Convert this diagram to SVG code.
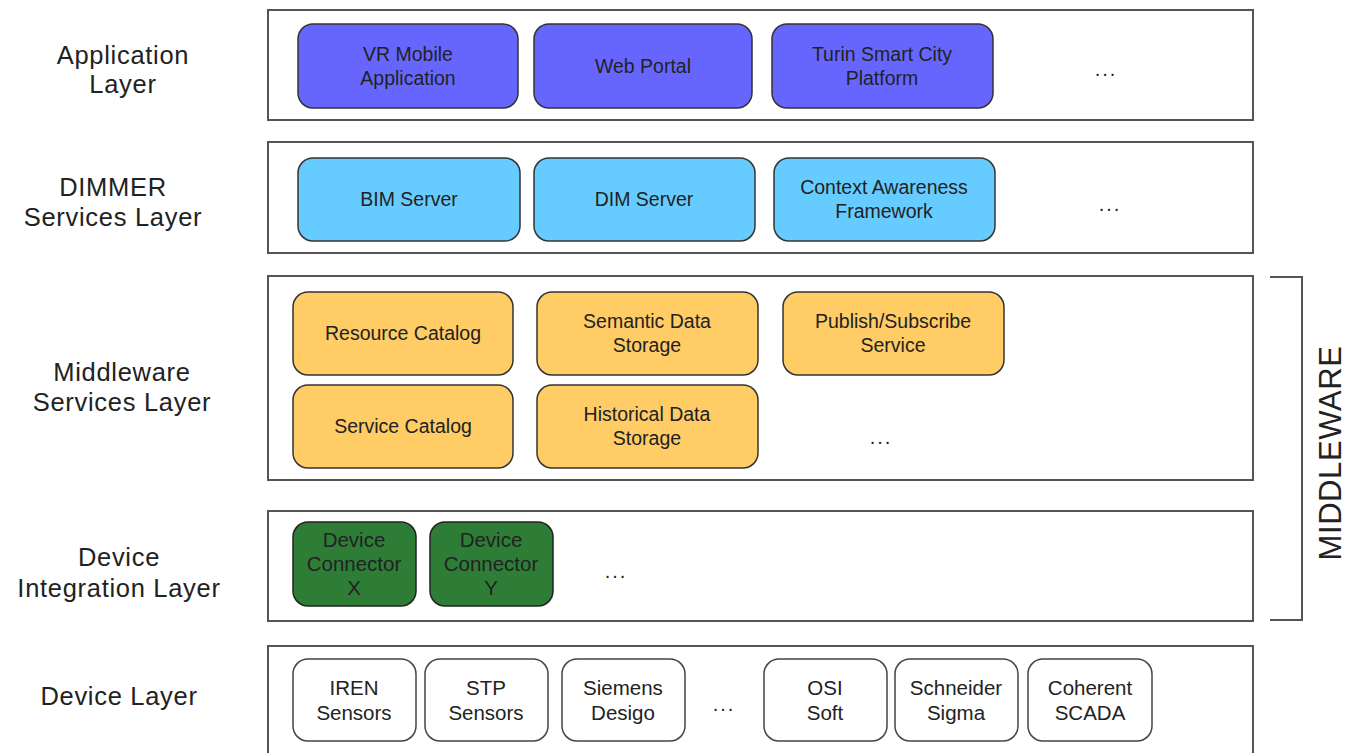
<svg xmlns="http://www.w3.org/2000/svg" width="1347" height="753" viewBox="0 0 1347 753">
<style>
  text { font-family: "Liberation Sans", Arial, sans-serif; fill: #222; text-anchor: middle; }
  .lbl { font-size: 25.5px; letter-spacing: 0.7px; }
  .nt { font-size: 19.5px; }
  .dt { font-size: 20.5px; }
  .layer { fill: #fff; stroke: #555; stroke-width: 2; }
  .app { fill: #6666FF; stroke: #333; stroke-width: 1.5; }
  .dim { fill: #66CCFF; stroke: #333; stroke-width: 1.5; }
  .mw { fill: #FFCC66; stroke: #333; stroke-width: 1.5; }
  .dc { fill: #2E7D36; stroke: #222; stroke-width: 1.5; }
  .dev { fill: #fff; stroke: #444; stroke-width: 1.5; }
  .dots { font-size: 20px; letter-spacing: 2px; }
</style>
<rect width="1347" height="753" fill="#fff"/>

<g id="labels">
  <text class="lbl" x="123" y="64">Application</text>
  <text class="lbl" x="123" y="93">Layer</text>
  <text class="lbl" x="113" y="196">DIMMER</text>
  <text class="lbl" x="113" y="226">Services Layer</text>
  <text class="lbl" x="122" y="381">Middleware</text>
  <text class="lbl" x="122" y="411">Services Layer</text>
  <text class="lbl" x="119" y="566">Device</text>
  <text class="lbl" x="119" y="597">Integration Layer</text>
  <text class="lbl" x="119" y="705">Device Layer</text>
</g>

<g id="layer-app">
  <rect class="layer" x="268" y="10" width="985" height="110"/>
</g>
<g id="layer-dimmer">
  <rect class="layer" x="268" y="142" width="985" height="111"/>
</g>
<g id="layer-middleware">
  <rect class="layer" x="268" y="276" width="985" height="204"/>
</g>
<g id="layer-integration">
  <rect class="layer" x="268" y="511" width="985" height="110"/>
</g>
<g id="layer-device">
  <rect class="layer" x="268" y="646" width="985" height="112"/>
</g>

<g id="node-vr">
  <rect class="app" x="298" y="24" width="220" height="84" rx="15"/>
  <text class="nt" x="408" y="61">VR Mobile</text>
  <text class="nt" x="408" y="85">Application</text>
</g>
<g id="node-web">
  <rect class="app" x="534" y="24" width="218" height="84" rx="15"/>
  <text class="nt" x="643" y="73">Web Portal</text>
</g>
<g id="node-turin">
  <rect class="app" x="772" y="24" width="221" height="84" rx="15"/>
  <text class="nt" x="882" y="61">Turin Smart City</text>
  <text class="nt" x="882" y="85">Platform</text>
</g>
<text class="dots" x="1106" y="76">...</text>

<g id="node-bim">
  <rect class="dim" x="298" y="158" width="222" height="83" rx="15"/>
  <text class="nt" x="409" y="206">BIM Server</text>
</g>
<g id="node-dimserver">
  <rect class="dim" x="534" y="158" width="221" height="83" rx="15"/>
  <text class="nt" x="644" y="206">DIM Server</text>
</g>
<g id="node-context">
  <rect class="dim" x="774" y="158" width="221" height="83" rx="15"/>
  <text class="nt" x="884" y="194">Context Awareness</text>
  <text class="nt" x="884" y="218">Framework</text>
</g>
<text class="dots" x="1110" y="211">...</text>

<g id="node-resource">
  <rect class="mw" x="293" y="292" width="220" height="83" rx="15"/>
  <text class="nt" x="403" y="340">Resource Catalog</text>
</g>
<g id="node-semantic">
  <rect class="mw" x="537" y="292" width="221" height="83" rx="15"/>
  <text class="nt" x="647" y="328">Semantic Data</text>
  <text class="nt" x="647" y="352">Storage</text>
</g>
<g id="node-pubsub">
  <rect class="mw" x="783" y="292" width="221" height="83" rx="15"/>
  <text class="nt" x="893" y="328">Publish/Subscribe</text>
  <text class="nt" x="893" y="352">Service</text>
</g>
<g id="node-service">
  <rect class="mw" x="293" y="385" width="220" height="83" rx="15"/>
  <text class="nt" x="403" y="433">Service Catalog</text>
</g>
<g id="node-historical">
  <rect class="mw" x="537" y="385" width="221" height="83" rx="15"/>
  <text class="nt" x="647" y="421">Historical Data</text>
  <text class="nt" x="647" y="445">Storage</text>
</g>
<text class="dots" x="881" y="444">...</text>

<g id="node-dcx">
  <rect class="dc" x="293" y="522" width="123" height="84" rx="15"/>
  <text class="dt" x="354" y="547">Device</text>
  <text class="dt" x="354" y="571">Connector</text>
  <text class="dt" x="354" y="595">X</text>
</g>
<g id="node-dcy">
  <rect class="dc" x="430" y="522" width="123" height="84" rx="15"/>
  <text class="dt" x="491" y="547">Device</text>
  <text class="dt" x="491" y="571">Connector</text>
  <text class="dt" x="491" y="595">Y</text>
</g>
<text class="dots" x="616" y="578">...</text>

<g id="node-iren">
  <rect class="dev" x="293" y="659" width="123" height="82" rx="15"/>
  <text class="dt" x="354" y="695">IREN</text>
  <text class="dt" x="354" y="720">Sensors</text>
</g>
<g id="node-stp">
  <rect class="dev" x="425" y="659" width="123" height="82" rx="15"/>
  <text class="dt" x="486" y="695">STP</text>
  <text class="dt" x="486" y="720">Sensors</text>
</g>
<g id="node-siemens">
  <rect class="dev" x="562" y="659" width="123" height="82" rx="15"/>
  <text class="dt" x="623" y="695">Siemens</text>
  <text class="dt" x="623" y="720">Desigo</text>
</g>
<text class="dots" x="724" y="711">...</text>
<g id="node-osi">
  <rect class="dev" x="764" y="659" width="123" height="82" rx="15"/>
  <text class="dt" x="825" y="695">OSI</text>
  <text class="dt" x="825" y="720">Soft</text>
</g>
<g id="node-schneider">
  <rect class="dev" x="895" y="659" width="123" height="82" rx="15"/>
  <text class="dt" x="956" y="695">Schneider</text>
  <text class="dt" x="956" y="720">Sigma</text>
</g>
<g id="node-coherent">
  <rect class="dev" x="1028" y="659" width="124" height="82" rx="15"/>
  <text class="dt" x="1090" y="695">Coherent</text>
  <text class="dt" x="1090" y="720">SCADA</text>
</g>

<g id="middleware-bracket">
  <path d="M1270 277 H1302 V620 H1270" fill="none" stroke="#555" stroke-width="2"/>
  <text x="1341" y="453" font-size="31" letter-spacing="0.6" transform="rotate(-90 1341 453)" style="fill:#222">MIDDLEWARE</text>
</g>
<g id="connectors"></g>
</svg>
